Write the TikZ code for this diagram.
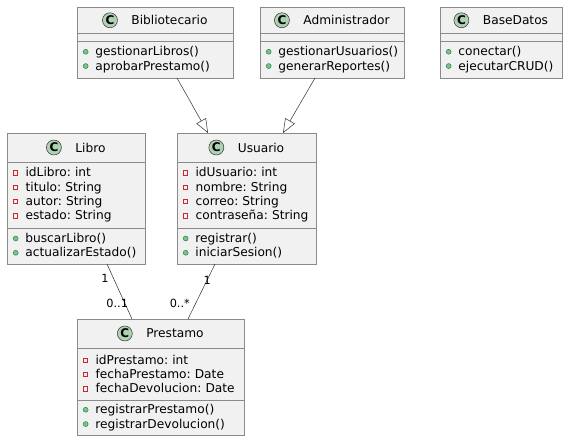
\documentclass[tikz,border=0pt]{standalone}
\usepackage{fontspec}
\setmainfont{DejaVu Sans}
\usetikzlibrary{arrows.meta,positioning}
\frenchspacing

\definecolor{boxfill}{HTML}{F1F1F1}
\definecolor{boxline}{HTML}{8A8A8A}
\definecolor{linkline}{HTML}{303030}
\definecolor{iconfill}{HTML}{ADD1B2}
\definecolor{privline}{HTML}{C82930}
\definecolor{pubfill}{HTML}{84BE84}
\definecolor{publine}{HTML}{038048}

% visibility markers in front of a member
\newcommand{\privattr}[1]{\mbox{\tikz[baseline=0pt]\draw[privline,line width=0.6pt] (0pt,1.8pt) rectangle (4.4pt,6.2pt);\hspace{7.6pt}#1}}
\newcommand{\pubop}[1]{\mbox{\tikz[baseline=0pt]\filldraw[draw=publine,fill=pubfill,line width=0.4pt] (2.5pt,4.2pt) circle (2.5pt);\hspace{7pt}#1}}

\begin{document}
\begin{tikzpicture}[x=1pt,y=1pt,
every node/.style={font=\fontsize{12.2}{14.3}\selectfont},
hdr/.style={draw=boxline,fill=boxfill,line width=0.7pt,outer sep=0pt,minimum height=29pt,anchor=north west},
part/.style={draw=boxline,fill=boxfill,line width=0.7pt,outer sep=0pt,inner xsep=6pt,inner ysep=0pt,align=left},
cicon/.style={circle,draw=linkline,fill=iconfill,line width=0.5pt,minimum size=15pt,inner sep=0pt,font=\fontsize{12}{12}\selectfont\bfseries},
gen/.style={-{Triangle[open,length=14pt,width=11pt]},draw=linkline,line width=0.5pt},
assoc/.style={draw=linkline,line width=0.5pt},
mult/.style={font=\fontsize{11.3}{13}\selectfont,inner sep=1pt} ]

\useasboundingbox (0,0) rectangle (567,-441);

% top row
\node[hdr,minimum width=156pt,minimum height=26.5pt] (bibH) at (77,-7) {\hspace*{29pt}Bibliotecario};
\node[part,text width=144pt,minimum height=8pt,below=0pt of bibH] (bibA) {};
\node[part,text width=144pt,minimum height=36.5pt,below=0pt of bibA] (bibM) {\pubop{gestionarLibros()}\\\pubop{aprobarPrestamo()}};
\node[cicon,xshift=7.5pt] (bibC) at (bibH.text |- bibH.center) {C};

\node[hdr,minimum width=144pt,minimum height=26.5pt] (admH) at (260,-7) {\hspace*{29pt}Administrador};
\node[part,text width=132pt,minimum height=8pt,below=0pt of admH] (admA) {};
\node[part,text width=132pt,minimum height=36.5pt,below=0pt of admA] (admM) {\pubop{gestionarUsuarios()}\\\pubop{generarReportes()}};
\node[cicon,xshift=7.5pt] (admC) at (admH.text |- admH.center) {C};

\node[hdr,minimum width=122pt,minimum height=26.5pt] (dbH) at (440,-7) {\hspace*{29pt}BaseDatos};
\node[part,text width=110pt,minimum height=8pt,below=0pt of dbH] (dbA) {};
\node[part,text width=110pt,minimum height=36.5pt,below=0pt of dbA] (dbM) {\pubop{conectar()}\\\pubop{ejecutarCRUD()}};
\node[cicon,xshift=7.5pt] (dbC) at (dbH.text |- dbH.center) {C};

% middle row
\node[hdr,minimum width=138pt] (libroH) at (7,-133) {\hspace*{29pt}Libro};
\node[part,text width=126pt,minimum height=66pt,below=0pt of libroH] (libroA) {\privattr{idLibro: int}\\\privattr{titulo: String}\\\privattr{autor: String}\\\privattr{estado: String}};
\node[part,text width=126pt,minimum height=36pt,below=0pt of libroA] (libroM) {\pubop{buscarLibro()}\\\pubop{actualizarEstado()}};
\node[cicon,xshift=7.5pt] (libroC) at (libroH.text |- libroH.center) {C};

\node[hdr,minimum width=139pt] (usuH) at (177,-133) {\hspace*{29pt}Usuario};
\node[part,text width=127pt,minimum height=66pt,below=0pt of usuH] (usuA) {\privattr{idUsuario: int}\\\privattr{nombre: String}\\\privattr{correo: String}\\\privattr{contraseña: String}};
\node[part,text width=127pt,minimum height=36pt,below=0pt of usuA] (usuM) {\pubop{registrar()}\\\pubop{iniciarSesion()}};
\node[cicon,xshift=7.5pt] (usuC) at (usuH.text |- usuH.center) {C};

% bottom row
\node[hdr,minimum width=167pt] (prestH) at (77,-319) {\hspace*{29pt}Prestamo};
\node[part,text width=155pt,minimum height=52pt,below=0pt of prestH] (prestA) {\privattr{idPrestamo: int}\\\privattr{fechaPrestamo: Date}\\\privattr{fechaDevolucion: Date}};
\node[part,text width=155pt,minimum height=35.5pt,below=0pt of prestA] (prestM) {\pubop{registrarPrestamo()}\\\pubop{registrarDevolucion()}};
\node[cicon,xshift=7.5pt] (prestC) at (prestH.text |- prestH.center) {C};

% generalizations
\draw[gen] ([xshift=22pt]bibM.south) -- ([xshift=-38.5pt]usuH.north);
\draw[gen] ([xshift=-17pt]admM.south) -- ([xshift=36.5pt]usuH.north);

% associations
\draw[assoc] ([xshift=31pt]libroM.south) -- node[mult,pos=0.27,left=4pt] (libroOne) {1} node[mult,pos=0.71,anchor=east,xshift=4.5pt] (libroOpt) {0..1} ([xshift=-28.5pt]prestH.north);
\draw[assoc] ([xshift=-31.5pt]usuM.south) -- node[mult,pos=0.29] (usuOne) {1} node[mult,pos=0.71,anchor=east,xshift=-4.8pt] (usuMany) {0..*} ([xshift=27.5pt]prestH.north);

\end{tikzpicture}
\end{document}
